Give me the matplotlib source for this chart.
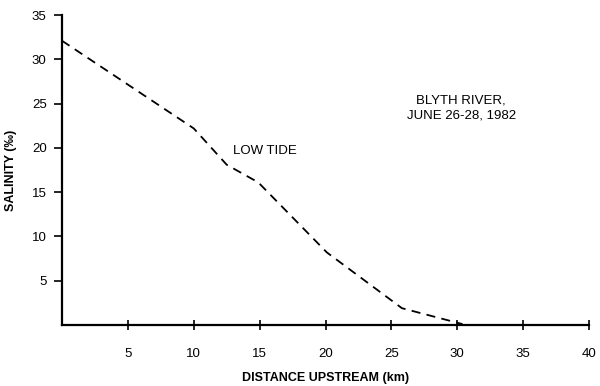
import matplotlib
matplotlib.use("Agg")
import matplotlib.pyplot as plt

distance_km = [0, 10, 12.5, 14.9, 20.1, 25.8, 30.4]
salinity = [32.1, 22.2, 18.1, 16.1, 8.2, 1.9, 0.1]
x_ticks = [5, 10, 15, 20, 25, 30, 35, 40]
y_ticks = [5, 10, 15, 20, 25, 30, 35]

plt.rcParams['font.family'] = ['Liberation Sans', 'DejaVu Sans']

fig = plt.figure(figsize=(6.0, 3.86), dpi=100)
ax = fig.add_axes([0.1033, 0.158, 0.8784, 0.803])
ax.plot(distance_km, salinity, color='black', lw=1.3, linestyle=(0, (5, 3.5)))
ax.set_xlim(0, 40)
ax.set_ylim(0, 35)
ax.spines['top'].set_visible(False)
ax.spines['right'].set_visible(False)
ax.spines['left'].set_linewidth(1.6)
ax.spines['bottom'].set_linewidth(1.6)
ax.set_xticks(x_ticks)
ax.set_yticks(y_ticks)
ax.tick_params(axis='x', direction='inout', length=7, width=1.2, pad=13, labelsize=9.5)
ax.tick_params(axis='y', direction='out', length=6, width=1.2, pad=5, labelsize=9.5)
ax.set_xlabel('DISTANCE UPSTREAM (km)', fontweight='bold', fontsize=9, labelpad=9)
ax.set_ylabel('SALINITY (‰)', fontweight='bold', fontsize=9, labelpad=11)
ax.text(13.0, 19.6, 'LOW TIDE', fontsize=9.5, ha='left', va='center')
ax.text(30.3, 25.4, 'BLYTH RIVER,', fontsize=9.5, ha='center', va='center')
ax.text(30.3, 23.7, 'JUNE 26-28, 1982', fontsize=9.5, ha='center', va='center')
fig.savefig('out.png', dpi=100)
